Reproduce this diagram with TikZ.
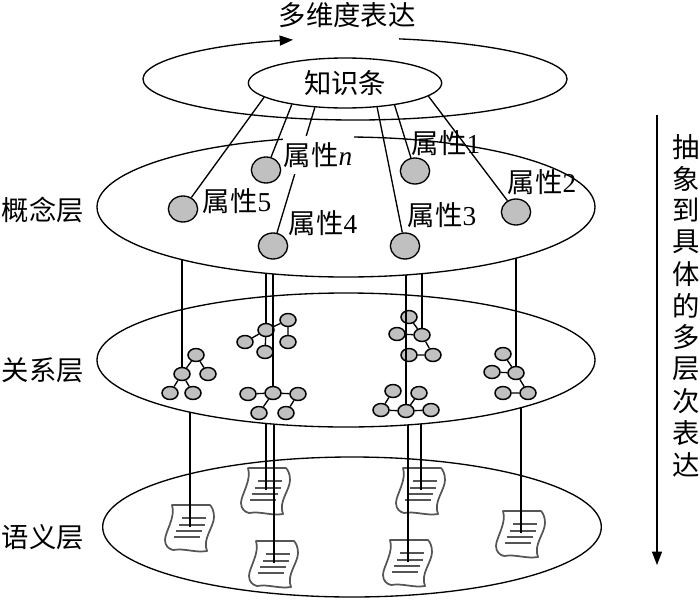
\documentclass[tikz,border=0pt]{standalone}
\usepackage{fontspec}
\setmainfont{Liberation Serif}
\newfontfamily\cjk{Noto Sans CJK SC}
\usetikzlibrary{arrows.meta,shapes.geometric}

\definecolor{nodegray}{RGB}{192,192,192}
\definecolor{docgray}{RGB}{85,85,85}

\tikzset{
  layer/.style={ellipse, draw, fill=white, line width=1pt, inner sep=0pt},
  attr/.style={ellipse, draw, fill=nodegray, line width=1pt, minimum width=22pt, minimum height=19.5pt, inner sep=0pt},
  rnode/.style={ellipse, draw, fill=nodegray, line width=1.1pt, minimum width=12pt, minimum height=9.75pt, inner sep=0pt},
  lbl/.style={font=\fontsize{20.5}{24}\selectfont, inner sep=1pt},
  cjklbl/.style={font=\cjk\fontsize{20.5}{24}\selectfont, inner sep=1pt},
  scrolldoc/.pic={
    \draw[docgray, line width=1.3pt, line join=round] (-17,-23) .. controls (-5,-21) and (5,-26) .. (17,-24)
      .. controls (12,-12) and (24,0) .. (24,10) .. controls (24,16) and (22,20) .. (20,22)
      -- (-18,22) .. controls (-14,10) and (-25,-5) .. (-25,-13) .. controls (-25,-19) and (-21,-22) .. cycle;
    \draw[docgray, line width=1.7pt] (-16,-10) -- (10,-10) (-14,-4) -- (12,-4) (-11,2) -- (15,2) (-8,9) -- (16,9);
  }
}

\begin{document}
\begin{tikzpicture}[x=0.75pt,y=0.75pt,yscale=-1,xscale=1]
\useasboundingbox (0,0) rectangle (700,604);

%Layer centres
\coordinate (cmid) at (346,207);
\coordinate (rmid) at (346,360);
\coordinate (smid) at (352,527);

%Shape: Ellipse [semantic layer]
\node[layer, minimum width=374pt, minimum height=105pt] (sem) at (smid) {};
%Documents
\foreach \n/\x/\y in {1/190/527, 2/266/490, 3/274/563, 4/421/490, 5/408/562, 6/521/533} {
  \coordinate (d\n) at (\x,\y);
  \pic at (d\n) {scrolldoc};
  \draw[line width=1pt] (d\n) -- (d\n |- rmid);
}

%Shape: Ellipse [relation layer]
\node[layer, minimum width=373.5pt, minimum height=100.5pt] (rel) at (rmid) {};
\foreach \name/\x/\y in {r1a/196/355, r1b/182/374, r1c/208/374, r1d/170/393, r1e/193/393,
    r2a/288/320, r2b/266/330, r2c/245/342, r2d/288/342, r2e/265/352,
    r3a/248/394, r3b/273/393, r3c/298/394, r3d/259/413, r3e/286/413,
    r4a/409/317, r4b/397/334, r4c/422/335, r4d/409/355, r4e/433/355,
    r5a/393/391, r5b/419/393, r5c/381/410, r5d/406/411, r5e/431/410,
    r6a/503/354, r6b/492/372, r6c/516/373, r6d/503/393, r6e/528/393}
  \node[rnode] (\name) at (\x,\y) {};
\draw[line width=1pt] (r1a) -- (r1b) (r1a) -- (r1c) (r1b) -- (r1d) (r1b) -- (r1e)
  (r2b) -- (r2a) (r2b) -- (r2c) (r2b) -- (r2e) (r2a) -- (r2d)
  (r3a) -- (r3b) (r3b) -- (r3c) (r3b) -- (r3d) (r3c) -- (r3e)
  (r4a) -- (r4c) (r4b) -- (r4c) (r4c) -- (r4e) (r4d) -- (r4e)
  (r5a) -- (r5c) (r5c) -- (r5d) (r5d) -- (r5e) (r5b) -- (r5d)
  (r6a) -- (r6c) (r6b) -- (r6c) (r6c) -- (r6e) (r6d) -- (r6e);
\foreach \s in {r1b,r2b,r3b,r4c,r5d,r6c}
  \draw[line width=1pt] (\s) -- (\s |- cmid);

%Shape: Ellipse [concept layer]
\node[layer, minimum width=373.5pt, minimum height=105pt] (con) at (cmid) {};

%Shape: Arc [outer ring]
\draw[line width=1pt, -{Triangle[length=10pt,width=7.5pt]}] (355,79) ++(-78:212 and 41)
  arc[start angle=-78, end angle=253, x radius=212, y radius=41];
\node[layer, minimum width=145pt, minimum height=37.5pt, font=\cjk\fontsize{20.5}{24}\selectfont] (know) at (345,83) {知识条};

%Attributes
\foreach \name/\x/\y in {a1/415/171, a2/516/212, a3/405/246, a4/273/246, a5/183/209, an/266/170}
  \node[attr] (\name) at (\x,\y) {};
\draw[line width=1pt] (know.190) -- (a5) (know.202) -- (an) (know.219) -- (a4)
  (know.323) -- (a3) (know.336) -- (a1) (know.351) -- (a2);
\node[lbl, fill=white, inner ysep=4.5pt] (ln) at (318,155) {{\cjk 属性}\textit{n}};
\node[lbl] (l1) at (446,143) {{\cjk 属性}1};
\node[lbl] (l2) at (542,182) {{\cjk 属性}2};
\node[lbl] (l3) at (442,215) {{\cjk 属性}3};
\node[lbl] (l4) at (323,223) {{\cjk 属性}4};
\node[lbl] (l5) at (237,201) {{\cjk 属性}5};

%Texts
\node[cjklbl] (title) at (347,15) {多维度表达};
\node[cjklbl] (lcon) at (43,210) {概念层};
\node[cjklbl] (lrel) at (43,370) {关系层};
\node[cjklbl] (lsem) at (43,537) {语义层};

%Right arrow
\coordinate (ytop) at (657,115);
\coordinate (ybot) at (657,565);
\draw[line width=1pt, -{Triangle[length=10pt,width=7.5pt]}] (ytop) -- (ybot);
\foreach \c [count=\i] in {抽,象,到,具,体,的,多,层,次,表,达}
  \node[cjklbl, inner sep=0pt] (v\i) at (686,114.9+31.8*\i) {\c};

\end{tikzpicture}
\end{document}
